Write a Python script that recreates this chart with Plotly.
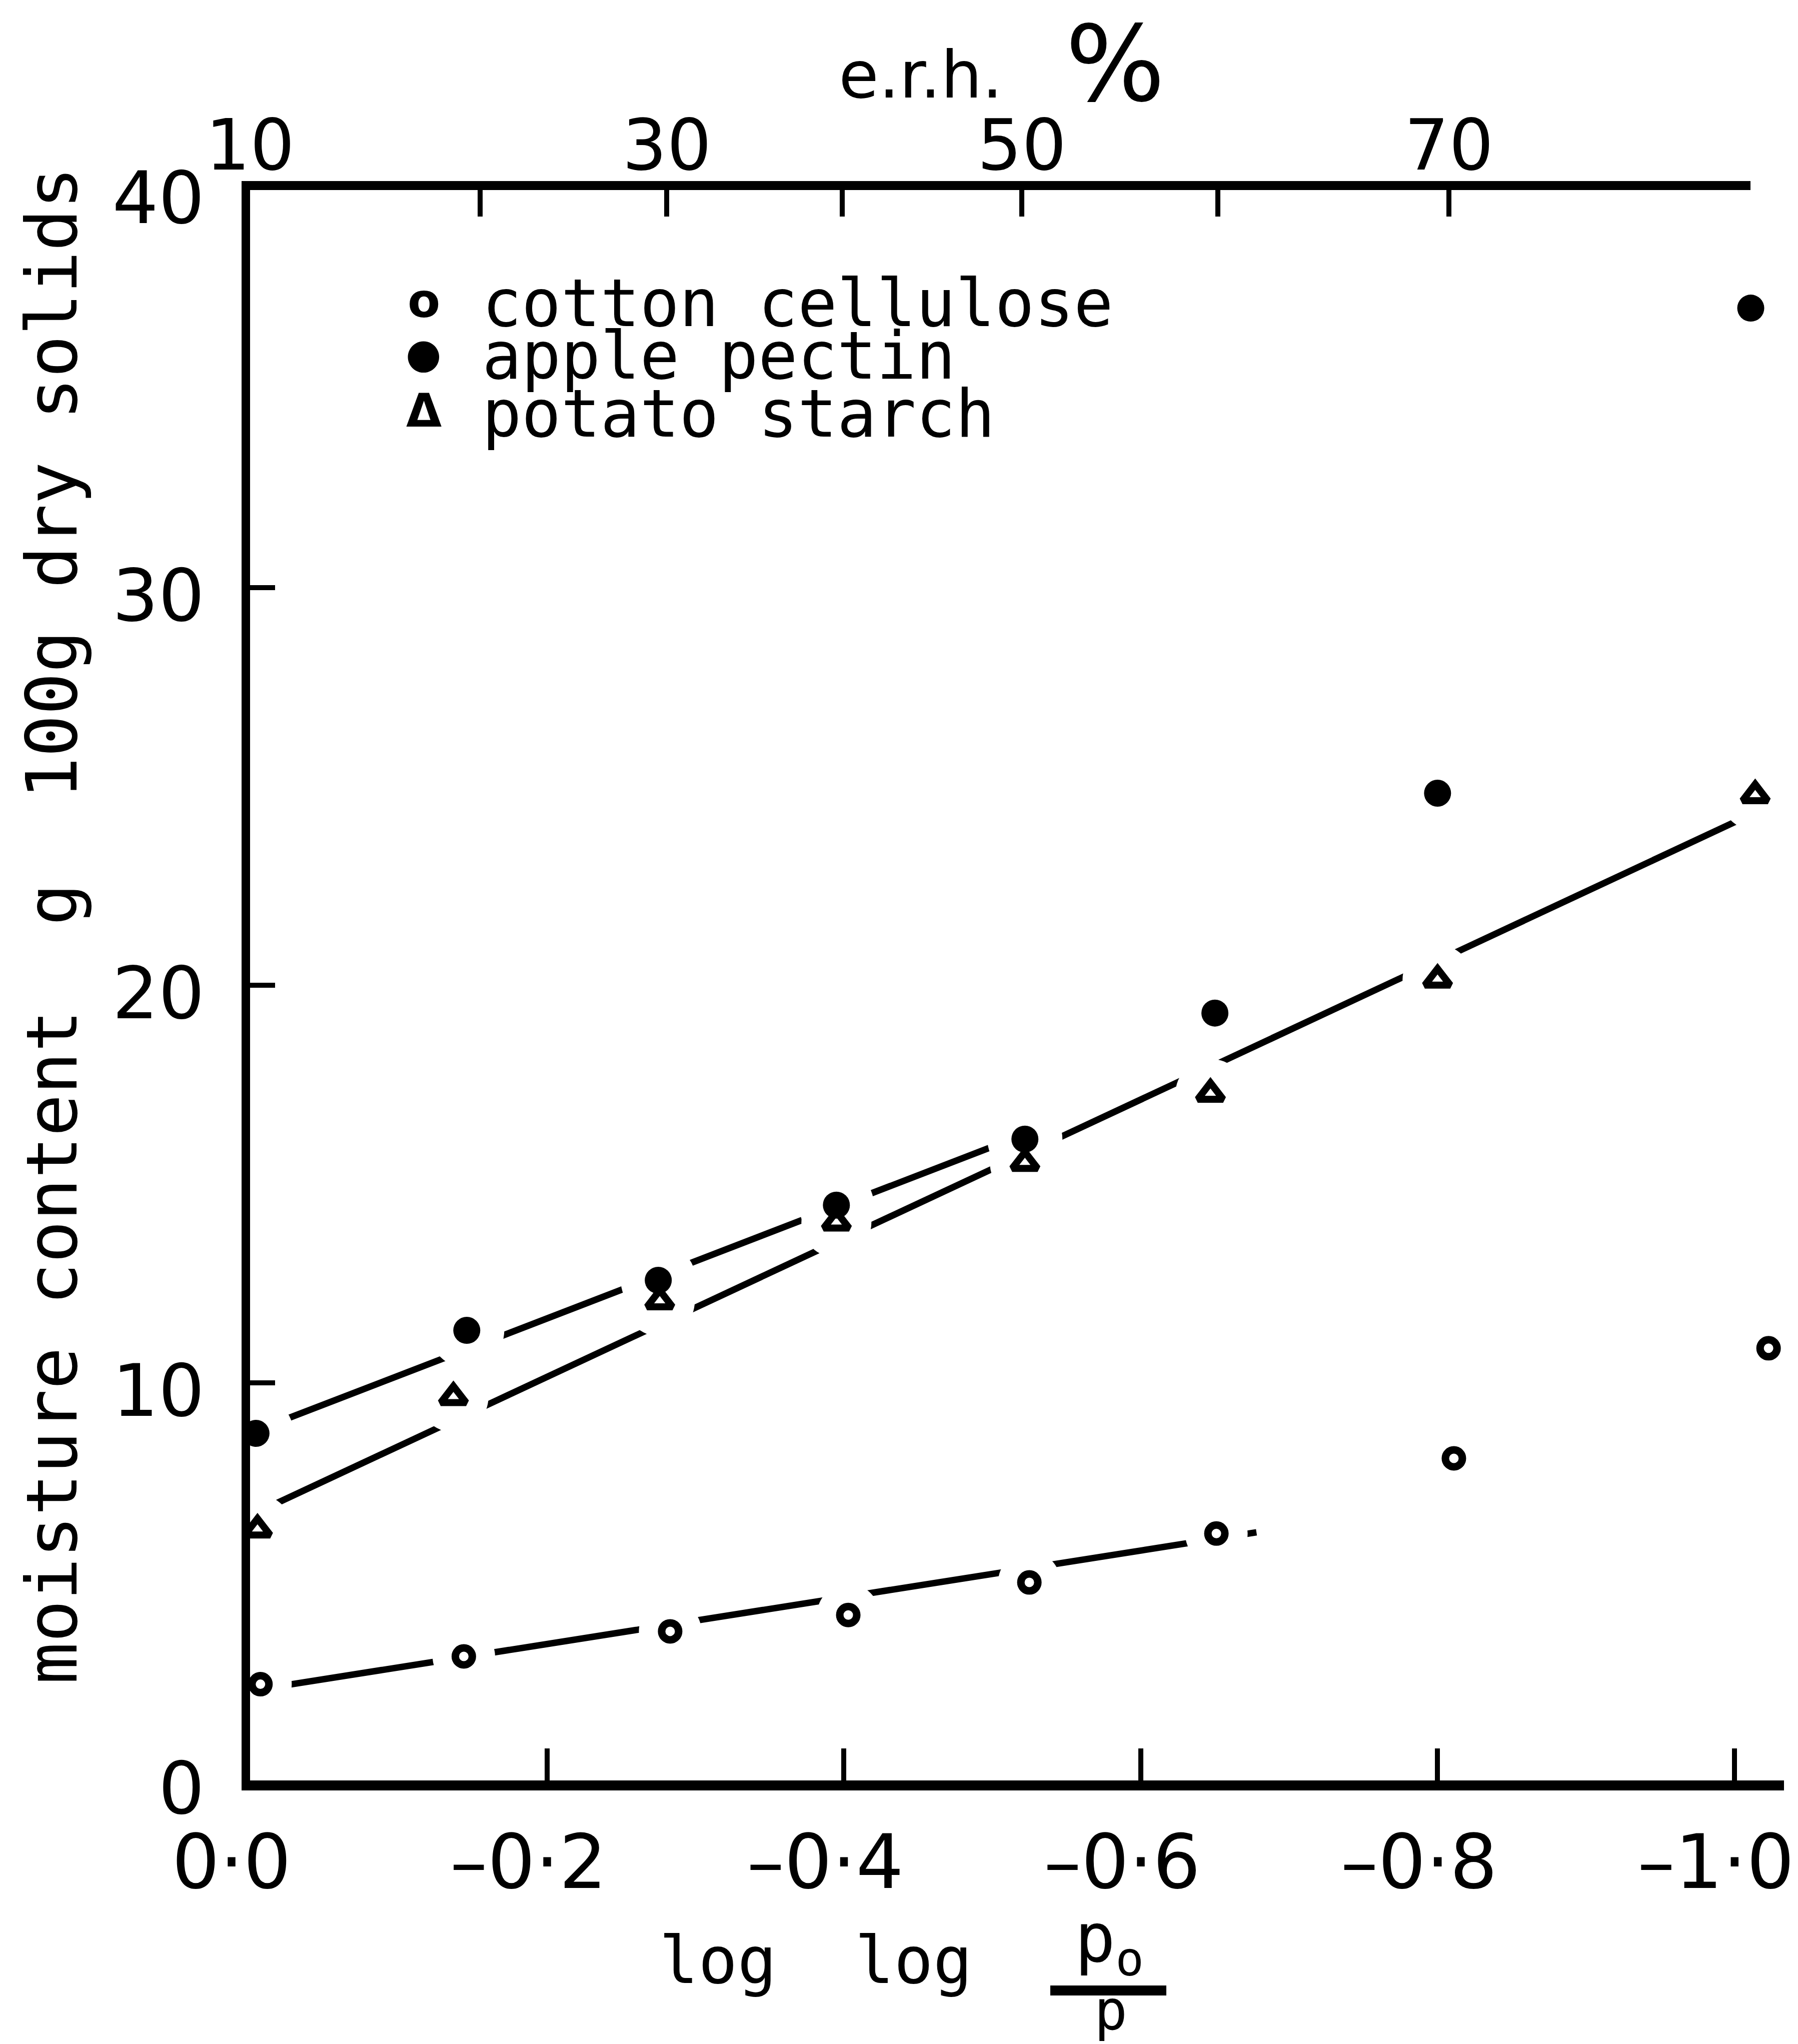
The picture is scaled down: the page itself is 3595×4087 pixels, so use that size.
import math
import plotly.graph_objects as go

# ---------------- data ----------------
cotton_x = [-0.007, -0.144, -0.283, -0.403, -0.525, -0.651, -0.811, -1.023]
cotton_y = [2.42, 3.12, 3.75, 4.16, 4.98, 6.21, 8.10, 10.87]

pectin_x = [-0.004, -0.146, -0.275, -0.395, -0.522, -0.650, -0.800, -1.011]
pectin_y = [8.73, 11.32, 12.58, 14.47, 16.13, 19.30, 24.83, 37.03]

starch_x = [-0.005, -0.137, -0.276, -0.395, -0.522, -0.647, -0.800, -1.014]
starch_y = [6.31, 9.64, 12.05, 14.03, 15.53, 17.27, 20.14, 24.78]

# hand-drawn fitted lines (end points)
cotton_fit_x = [0.0, -0.678]
cotton_fit_y = [2.255, 6.24]
pectin_fit_x = [0.0, -0.505]
pectin_fit_y = [8.74, 16.01]
starch_fit_x = [0.0, -1.008]
starch_fit_y = [6.66, 24.24]

x_ticks = [0.0, -0.2, -0.4, -0.6, -0.8, -1.0]
x_labels = ["0·0", "–0·2", "–0·4", "–0·6", "–0·8", "–1·0"]
y_ticks = [0, 10, 20, 30, 40]
y_labels = ["0", "10", "20", "30", "40"]
erh_major = [10, 30, 50, 70]
erh_major_labels = ["10", "30", "50", "70"]
erh_minor = [20, 40, 60, 80]

# ---------------- geometry ----------------
W, H = 3595, 4087
L, R, T, B = 500, 28, 380, 527
PW, PH = W - L - R, H - T - B


def px(x):
    return (x - L) / PW


def py(y):
    return (H - B - y) / PH


def loglog(e):
    return math.log10(math.log10(100.0 / e))


erh_major_pos = [loglog(e) for e in erh_major]
erh_minor_pos = [loglog(e) for e in erh_minor]

fig = go.Figure()

# fitted lines
for fx, fy in [(pectin_fit_x, pectin_fit_y), (starch_fit_x, starch_fit_y), (cotton_fit_x, cotton_fit_y)]:
    fig.add_trace(go.Scatter(x=fx, y=fy, mode="lines",
                             line=dict(color="black", width=13),
                             showlegend=False, hoverinfo="skip"))

# white gaps in the lines around every plotted point
for xs, ys, s in [(pectin_x, pectin_y, 150), (starch_x, starch_y, 140), (cotton_x, cotton_y, 125)]:
    fig.add_trace(go.Scatter(x=xs, y=ys, mode="markers",
                             marker=dict(symbol="circle", size=s, color="white", line=dict(width=0)),
                             cliponaxis=False, showlegend=False, hoverinfo="skip"))

# data points
fig.add_trace(go.Scatter(x=cotton_x, y=cotton_y, mode="markers", name="cotton cellulose",
                         marker=dict(symbol="circle-open", size=34, color="black", line=dict(width=15, color="black")),
                         cliponaxis=False, showlegend=False))
fig.add_trace(go.Scatter(x=pectin_x, y=pectin_y, mode="markers", name="apple pectin",
                         marker=dict(symbol="circle", size=54, color="black"),
                         cliponaxis=False, showlegend=False))
fig.add_trace(go.Scatter(x=starch_x, y=starch_y, mode="markers", name="potato starch",
                         marker=dict(symbol="triangle-up-open", size=44, color="black", line=dict(width=14, color="black")),
                         cliponaxis=False, showlegend=False))

# carrier for the top e.r.h. axis
fig.add_trace(go.Scatter(x=erh_major_pos, y=[None] * len(erh_major_pos), xaxis="x2", yaxis="y",
                         mode="markers", showlegend=False, hoverinfo="skip"))

tick_font = dict(family="DejaVu Sans", color="black")

fig.update_layout(
    width=W, height=H,
    margin=dict(l=L, r=R, t=T, b=B, pad=0, autoexpand=False),
    paper_bgcolor="white", plot_bgcolor="rgba(0,0,0,0)",
    showlegend=False,
    xaxis=dict(range=[0.0, -1.0334], tickvals=x_ticks, ticktext=x_labels,
               ticks="inside", ticklen=64, tickwidth=10, tickcolor="black",
               showline=True, linewidth=20, linecolor="black",
               showgrid=False, zeroline=False, ticklabelstandoff=15,
               ticklabelshift=37, ticklabeloverflow="allow", automargin=False,
               tickfont=dict(size=150, **tick_font)),
    xaxis2=dict(range=[0.0, erh_minor_pos[-1]], domain=[0, (3500 - L) / PW], anchor="y", side="top",
                tickvals=erh_major_pos, ticktext=erh_major_labels,
                ticks="inside", ticklen=53, tickwidth=10, tickcolor="black",
                minor=dict(tickvals=erh_minor_pos, ticks="inside", ticklen=53, tickwidth=10,
                           tickcolor="black", showgrid=False),
                showline=True, linewidth=18, linecolor="black",
                showgrid=False, zeroline=False, ticklabelstandoff=-33,
                ticklabeloverflow="allow", automargin=False,
                tickfont=dict(size=140, **tick_font)),
    yaxis=dict(range=[0, 40], tickvals=y_ticks, ticktext=y_labels,
               ticks="inside", ticklen=50, tickwidth=10, tickcolor="black",
               showline=True, linewidth=17, linecolor="black",
               showgrid=False, zeroline=False, ticklabelstandoff=45,
               ticklabelshift=15, automargin=False,
               tickfont=dict(size=145, **tick_font)),
)

mono = "DejaVu Sans Mono"
ann = []
# axis titles
ann.append(dict(text="moisture\u00a0content\u00a0\u00a0g\u00a0\u00a0100g\u00a0dry\u00a0solids",
                x=px(105), y=py(1851), textangle=-90,
                font=dict(family=mono, size=140, color="black")))
ann.append(dict(text="log\u00a0\u00a0log", x=px(1631), y=py(3920),
                font=dict(family=mono, size=130, color="black")))
ann.append(dict(text="p<sub>o</sub>", x=px(2218), y=py(3885),
                font=dict(family=mono, size=135, color="black")))
ann.append(dict(text="p", x=px(2221), y=py(4020),
                font=dict(family=mono, size=110, color="black")))
ann.append(dict(text="e.r.h.", x=px(1841), y=py(150),
                font=dict(family="DejaVu Sans", size=130, color="black")))
ann.append(dict(text="%", x=px(2230), y=py(128),
                font=dict(family="DejaVu Sans", size=210, color="black")))
# legend
legend_rows = [("<b>o</b>", 95, 601, "cotton\u00a0cellulose"),
               ("●", 82, 706, "apple\u00a0pectin"),
               ("<b>Δ</b>", 92, 822, "potato\u00a0starch")]
for sym, ssize, yy, label in legend_rows:
    ann.append(dict(text=sym, x=px(847), y=py(yy),
                    font=dict(family="DejaVu Sans", size=ssize, color="black")))
    ann.append(dict(text=label, x=px(962), y=py(yy + 5), xanchor="left",
                    font=dict(family=mono, size=131, color="black")))

for a in ann:
    a.setdefault("xanchor", "center")
    a.update(xref="paper", yref="paper", yanchor="middle", showarrow=False)
fig.update_layout(annotations=ann)

# fraction bar
fig.add_shape(type="line", xref="paper", yref="paper",
              x0=px(2100), x1=px(2332), y0=py(3980), y1=py(3980),
              line=dict(color="black", width=20))

fig.write_html("out.html")
